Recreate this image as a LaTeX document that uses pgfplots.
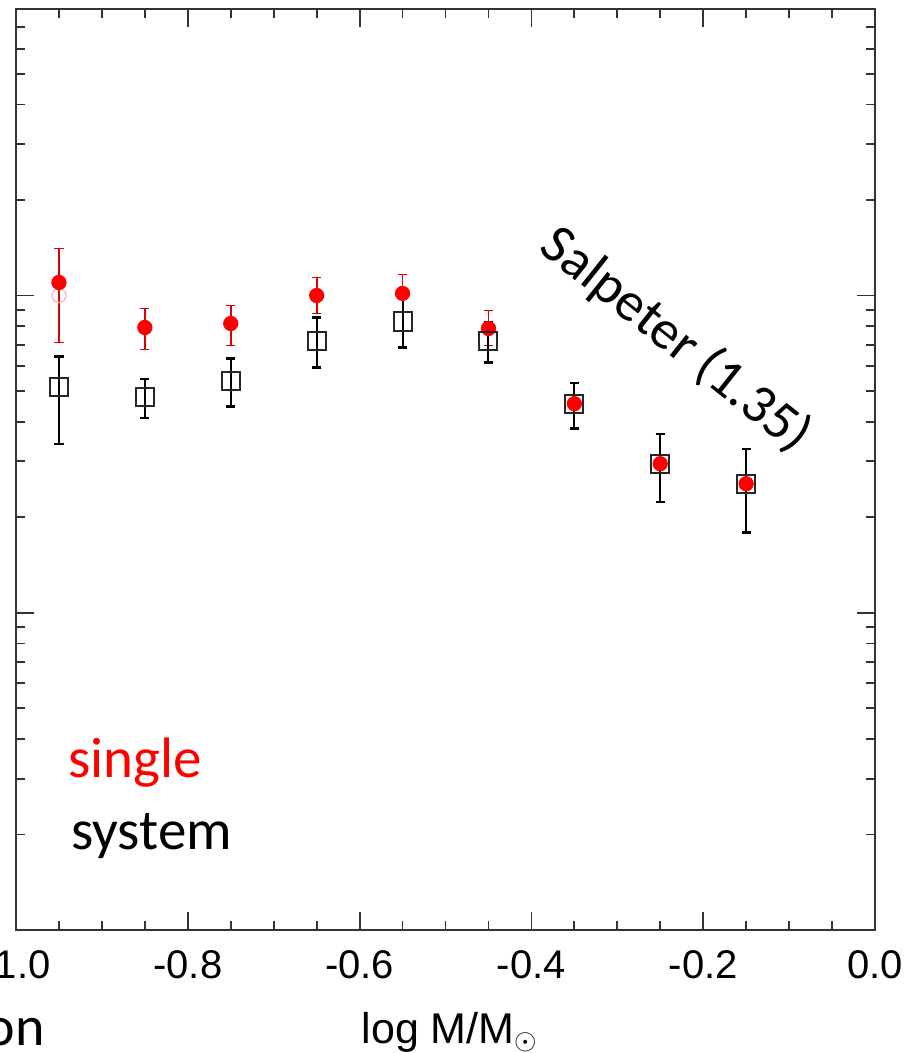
\documentclass[border=0pt]{standalone}
\usepackage{pgfplots}
\pgfplotsset{compat=1.18}
\usepackage{pgfplotstable}
\usepackage{fontspec}
\setmainfont{Liberation Sans}
\newfontfamily\calfont{Carlito}

\pgfplotstableread{
x y ep em
-0.95 5.13 1.29 1.72
-0.85 4.80 0.67 0.68
-0.75 5.36 0.97 0.89
-0.65 7.21 1.31 1.28
-0.55 8.28 1.58 1.42
-0.45 7.21 1.01 1.06
-0.35 4.56 0.75 0.75
-0.25 2.95 0.72 0.71
-0.15 2.55 0.74 0.76
}\systemdata

\pgfplotstableread{
x y ep em
-0.95 10.99 3.08 3.88
-0.85 7.93 1.17 1.17
-0.75 8.16 1.14 1.20
-0.65 10.00 1.40 1.23
-0.55 10.15 1.50 1.31
-0.45 7.87 1.10 0.91
-0.35 4.56 0.75 0.75
-0.25 2.95 0.72 0.71
-0.15 2.55 0.74 0.76
}\singledata

\begin{document}
\begin{tikzpicture}
\useasboundingbox (0,0) rectangle (458.5pt,526.5pt);
\clip (0,0) rectangle (458.5pt,526.5pt);
\begin{axis}[
  at={(8pt,61.5pt)}, anchor=south west,
  scale only axis, width=429.5pt, height=460.5pt,
  xmin=-1, xmax=0, ymode=log, ymin=0.1, ymax=80,
  xtick={-1,-0.8,-0.6,-0.4,-0.2,0},
  xticklabels={-1.0,-0.8,-0.6,-0.4,-0.2,0.0},
  minor x tick num=3,
  ytick={0.1,1,10}, yticklabels={},
  minor ytick={0.2,0.3,0.4,0.5,0.6,0.7,0.8,0.9,2,3,4,5,6,7,8,9,20,30,40,50,60,70},
  axis line style={line width=1pt, black!80},
  every tick/.style={line width=0.9pt, black!80},
  major tick length=9pt, minor tick length=4.5pt,
  tick align=inside,
  xticklabel style={font=\fontsize{20}{24}\selectfont, yshift=-7pt},
  xlabel={log M/M$_{\odot}$},
  xlabel style={font=\fontsize{21.5}{25}\selectfont, at={(axis description cs:0.505,0)}, anchor=base, yshift=-56.5pt},
]
\addplot[only marks, mark=o, mark size=3.5pt, red!30, line width=0.6pt] coordinates {(-0.95,10)};
\addplot[only marks, red, mark=*, mark size=3.6pt, mark options={fill=red, draw=red},
  error bars/.cd, y dir=both, y explicit,
  error mark=-,
  error bar style={line width=0.9pt, red!85!black},
  error mark options={rotate=90, line width=0.9pt, mark size=2.3pt, red!85!black}]
  table[x=x, y=y, y error plus=ep, y error minus=em] {\singledata};
\addplot[only marks, black, mark=square, mark size=4.5pt, mark options={line width=1pt, draw=black!85},
  error bars/.cd, y dir=both, y explicit,
  error mark=-,
  error bar style={line width=1pt, black},
  error mark options={rotate=90, line width=1.1pt, mark size=2.3pt, black}]
  table[x=x, y=y, y error plus=ep, y error minus=em] {\systemdata};
\node[anchor=base west, text=red, font=\calfont\fontsize{28.5}{34}\selectfont, inner sep=0pt] at (axis cs:-0.9395,0.3017) {single};
\node[anchor=base west, text=black, font=\calfont\fontsize{28.5}{34}\selectfont, inner sep=0pt] at (axis cs:-0.936,0.180) {system};
\node[anchor=base, rotate=-38.5, font=\calfont\fontsize{27.5}{32}\selectfont, inner sep=0pt] at (axis cs:-0.243,6.62) {Salpeter (1.35)};
\end{axis}
\node[anchor=base east, font=\calfont\fontsize{28}{34}\selectfont, inner sep=0pt] at (22.5pt,4pt) {on};
\end{tikzpicture}
\end{document}
